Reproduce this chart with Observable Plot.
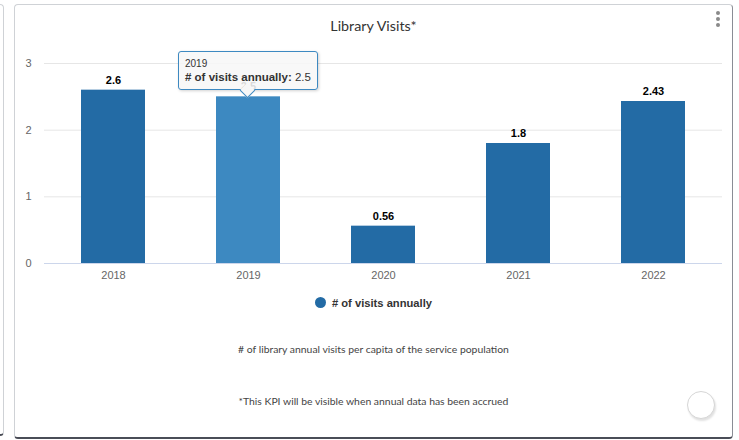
<!DOCTYPE html>
<html>
<head>
<meta charset="utf-8">
<script src="https://cdn.jsdelivr.net/npm/d3@7"></script>
<script src="https://cdn.jsdelivr.net/npm/@observablehq/plot@0.6"></script>
<style>
  html, body { margin: 0; padding: 0; background: #fff; }
  body { position: relative; width: 739px; height: 440px; overflow: hidden; font-family: "Liberation Sans", Arial, sans-serif; }
  .prevcard { position: absolute; left: -300px; top: 4px; width: 304px; height: 432px; border: 1px solid #cfd2d6; border-bottom: 2px solid #4a4d57; border-radius: 4px; box-sizing: border-box; }
  .card { position: absolute; left: 14px; top: 4px; width: 719px; height: 435px; border: 1px solid #cfd2d6; border-bottom: 2px solid #4a4d57; border-right: 1px solid #8a8d95; border-radius: 4px; box-sizing: border-box; background: #fff; }
  .title { position: absolute; left: 14px; width: 719px; top: 17px; text-align: center; font-family: Lato, sans-serif; font-size: 14.3px; color: #333; }
  .kebab span { position: absolute; left: 716px; width: 4px; height: 4px; border-radius: 50%; background: #8a8a8a; }
  #chart { position: absolute; left: 0; top: 40px; }
  .legend { position: absolute; left: 14px; width: 719px; top: 297px; text-align: center; font-size: 11.2px; font-weight: bold; color: #333; }
  .legend .dot { display: inline-block; width: 11px; height: 11px; border-radius: 50%; vertical-align: -1px; margin-right: 6px; }
  .note { position: absolute; left: 14px; width: 719px; text-align: center; font-family: Lato, sans-serif; font-size: 10.4px; color: #444; }
  .tip { position: absolute; box-sizing: border-box; background: rgba(247,247,247,0.88); border: 1px solid; border-radius: 3px; padding: 5px 6px 4px 6px; color: #333; white-space: nowrap; box-shadow: 1px 1px 3px rgba(0,0,0,0.18); }
  .tip .hdr { font-size: 10px; line-height: 13px; }
  .tip .row { font-size: 11.5px; line-height: 15px; }
  .tip .arrow { position: absolute; left: 50%; bottom: -7px; width: 10px; height: 10px; margin-left: -6px; transform: rotate(45deg); background: #f7f7f7; border-right: 1px solid; border-bottom: 1px solid; border-color: inherit; }
  .btn { position: absolute; left: 687px; top: 391px; width: 26px; height: 26px; border-radius: 50%; border: 1px solid #d6d6d6; background: #fff; box-shadow: 1px 2px 2px rgba(0,0,0,0.12); }
</style>
</head>
<body>
<div class="prevcard"></div>
<div class="card"></div>
<div class="title">Library Visits*</div>
<div class="kebab"><span style="top:11px"></span><span style="top:17px"></span><span style="top:23px"></span></div>
<div id="chart"></div>
<div class="legend" id="legend"></div>
<div class="note" style="top:343px"># of library annual visits per capita of the service population</div>
<div class="note" style="top:395px">*This KPI will be visible when annual data has been accrued</div>
<div class="btn"></div>
<script>
const years = ["2018", "2019", "2020", "2021", "2022"];
const visits = [2.6, 2.5, 0.56, 1.8, 2.43];
const yTicks = [0, 1, 2, 3];
const seriesName = "# of visits annually";
const hoveredYear = "2019";

const colorMain = "#236ba5";
const colorHover = "#3d89c1";

const data = years.map((year, i) => ({year, value: visits[i]}));

const chart = Plot.plot({
  width: 739,
  height: 250,
  marginLeft: 44,
  marginRight: 17,
  marginTop: 23,
  marginBottom: 27,
  style: {fontFamily: "'Liberation Sans', Arial, sans-serif", fontSize: "11px", color: "#666", background: "transparent"},
  x: {domain: years, paddingInner: 0.528, paddingOuter: 0.264, label: null},
  y: {domain: [0, 3], label: null},
  marks: [
    Plot.gridY(yTicks.filter(t => t > 0), {stroke: "#e6e6e6", strokeOpacity: 1}),
    Plot.axisY({ticks: yTicks, tickFormat: d => String(d), tickSize: 0, tickPadding: 13, fill: "#666", label: null}),
    Plot.axisX({tickSize: 0, tickPadding: 8, fill: "#666", label: null}),
    Plot.barY(data, {x: "year", y: "value", fill: d => d.year === hoveredYear ? colorHover : colorMain}),
    Plot.ruleY([0], {stroke: "#ccd6eb"}),
    Plot.text(data, {x: "year", y: "value", text: d => String(d.value), dy: -10,
      fontWeight: "bold", fontSize: 11, fill: "#000", stroke: "#fff", strokeWidth: 1.5})
  ]
});
document.getElementById("chart").appendChild(chart);

// legend
document.getElementById("legend").innerHTML =
  `<span class="dot" style="background:${colorMain}"></span>${seriesName}`;

// tooltip for the hovered bar, positioned via the chart scales
const xs = chart.scale("x"), ys = chart.scale("y");
const hv = data.find(d => d.year === hoveredYear);
const cx = xs.apply(hv.year) + xs.bandwidth / 2;
const topY = 40 + ys.apply(hv.value);
const tip = document.createElement("div");
tip.className = "tip";
tip.style.borderColor = colorHover;
tip.innerHTML = `<div class="hdr">${hv.year}</div><div class="row"><b>${seriesName}:</b> ${hv.value}</div><div class="arrow"></div>`;
document.body.appendChild(tip);
const w = tip.offsetWidth, h = tip.offsetHeight;
tip.style.left = (cx - w / 2) + "px";
tip.style.top = (topY - 6 - h) + "px";
</script>
</body>
</html>
